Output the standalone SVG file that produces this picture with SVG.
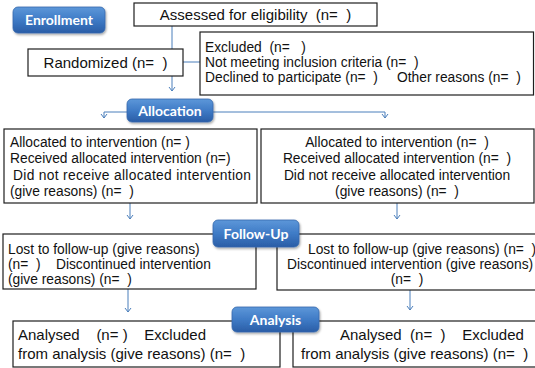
<svg xmlns="http://www.w3.org/2000/svg" width="535" height="368" viewBox="0 0 535 368">
<style>
.box{fill:#ffffff;stroke:#1e1e1e;stroke-width:1.2}
.t{font-family:"Liberation Sans",Arial,sans-serif;fill:#111}
.s15{font-size:15px}
.s14{font-size:13.8px}
.badge{stroke:#3568ad;stroke-width:0.8}
.bt{font-family:Lato,"Open Sans",sans-serif;font-weight:bold;font-size:14px;fill:#ffffff;text-anchor:middle}
.c{fill:none;stroke:#4a7ebb;stroke-width:1}
.mid{text-anchor:middle}
</style>
<defs>
<linearGradient id="bg" x1="0" y1="0" x2="0" y2="1">
<stop offset="0" stop-color="#5d97d9"/>
<stop offset="0.5" stop-color="#3f7bc6"/>
<stop offset="1" stop-color="#2a5da6"/>
</linearGradient>
<filter id="sh" x="-10%" y="-20%" width="125%" height="150%">
<feDropShadow dx="1" dy="1.5" stdDeviation="1.2" flood-color="#000" flood-opacity="0.35"/>
</filter>
<marker id="ah" viewBox="-5 -5 10 10" refX="0" refY="0" markerWidth="10" markerHeight="10" markerUnits="userSpaceOnUse" orient="auto" overflow="visible">
<path d="M-4,-3 L0,0 L-4,3" fill="none" stroke="#4a7ebb" stroke-width="1"/>
</marker>
</defs>

<g id="connectors">
<line class="c" x1="172" y1="26" x2="172" y2="91" marker-end="url(#ah)"/>
<line class="c" x1="183" y1="62" x2="200" y2="62"/>
<polyline class="c" points="127,112 104,112 104,118" marker-end="url(#ah)"/>
<polyline class="c" points="213,112 385,112 385,118" marker-end="url(#ah)"/>
<line class="c" x1="130" y1="203" x2="130" y2="219" marker-end="url(#ah)"/>
<line class="c" x1="397" y1="203" x2="397" y2="219" marker-end="url(#ah)"/>
<line class="c" x1="128" y1="289" x2="128" y2="312" marker-end="url(#ah)"/>
<line class="c" x1="410" y1="290" x2="410" y2="310" marker-end="url(#ah)"/>
</g>

<g id="assessed">
<rect class="box" x="134" y="3" width="243" height="23"/>
<text class="t s15 mid" x="255.5" y="20" xml:space="preserve">Assessed for eligibility  (n=  )</text>
</g>

<g id="randomized">
<rect class="box" x="28" y="49" width="155" height="27"/>
<text class="t s15 mid" x="105.5" y="68" xml:space="preserve">Randomized (n=  )</text>
</g>

<g id="excluded">
<rect class="box" x="200" y="32" width="333.5" height="63"/>
<text class="t s14" x="205" y="52" xml:space="preserve">Excluded  (n=   )</text>
<text class="t s14" x="205" y="67" xml:space="preserve">Not meeting inclusion criteria (n=  )</text>
<text class="t s14" x="205" y="82" xml:space="preserve">Declined to participate (n=  )<tspan x="397">Other reasons (n=  )</tspan></text>
</g>

<g id="alloc-left">
<rect class="box" x="4" y="129" width="253" height="74"/>
<text class="t s14" x="10" y="147" xml:space="preserve">Allocated to intervention (n= )</text>
<text class="t s14" x="10" y="163" xml:space="preserve">Received allocated intervention (n=)</text>
<text class="t s14" x="13" y="180" textLength="238" lengthAdjust="spacing">Did not receive allocated intervention</text>
<text class="t s14" x="10" y="196" xml:space="preserve">(give reasons) (n=  )</text>
</g>

<g id="alloc-right">
<rect class="box" x="261" y="129" width="273" height="74"/>
<text class="t s14 mid" x="397" y="147" xml:space="preserve">Allocated to intervention (n=  )</text>
<text class="t s14 mid" x="397" y="163" xml:space="preserve">Received allocated intervention (n=  )</text>
<text class="t s14 mid" x="397" y="180" xml:space="preserve">Did not receive allocated intervention</text>
<text class="t s14 mid" x="397" y="196" xml:space="preserve">(give reasons) (n=  )</text>
</g>

<g id="follow-left">
<rect class="box" x="3" y="234" width="253" height="55"/>
<text class="t s14" x="8" y="254" xml:space="preserve">Lost to follow-up (give reasons)</text>
<text class="t s14" x="8" y="269" xml:space="preserve">(n=  )    Discontinued intervention</text>
<text class="t s14" x="8" y="284" xml:space="preserve">(give reasons) (n=  )</text>
</g>

<g id="follow-right">
<rect class="box" x="277" y="234" width="270" height="56"/>
<text class="t s14" x="308" y="254" xml:space="preserve">Lost to follow-up (give reasons) (n=  )</text>
<text class="t s14" x="287" y="269" xml:space="preserve">Discontinued intervention (give reasons)</text>
<text class="t s14 mid" x="407" y="284" xml:space="preserve">(n=  )</text>
</g>

<g id="analysis-left">
<rect class="box" x="13" y="321" width="267" height="46"/>
<text class="t s15" x="18" y="340" xml:space="preserve">Analysed    (n= )    Excluded</text>
<text class="t s15" x="18" y="359" xml:space="preserve">from analysis (give reasons) (n=  )</text>
</g>

<g id="analysis-right">
<rect class="box" x="293" y="321" width="250" height="46"/>
<text class="t s15" x="340" y="340" xml:space="preserve">Analysed  (n=  )    Excluded</text>
<text class="t s15" x="301" y="359" xml:space="preserve">from analysis (give reasons) (n=  )</text>
</g>

<g id="badge-enrollment">
<rect class="badge" x="13" y="7" width="92" height="26" rx="5" fill="url(#bg)" filter="url(#sh)"/>
<text class="bt" x="59" y="25">Enrollment</text>
</g>
<g id="badge-allocation">
<rect class="badge" x="127" y="99" width="86" height="23" rx="5" fill="url(#bg)" filter="url(#sh)"/>
<text class="bt" x="170" y="115.5">Allocation</text>
</g>
<g id="badge-followup">
<rect class="badge" x="213" y="220" width="86" height="27" rx="5" fill="url(#bg)" filter="url(#sh)"/>
<text class="bt" x="256" y="238.5">Follow-Up</text>
</g>
<g id="badge-analysis">
<rect class="badge" x="232" y="307" width="87" height="25" rx="5" fill="url(#bg)" filter="url(#sh)"/>
<text class="bt" x="275.5" y="324.5">Analysis</text>
</g>
</svg>
